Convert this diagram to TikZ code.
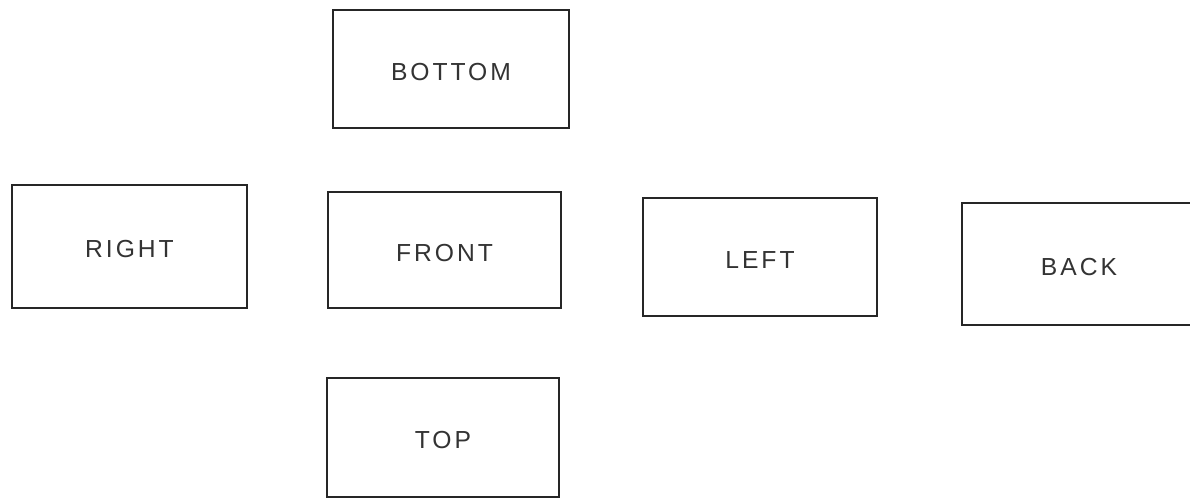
\documentclass[tikz,border=0pt]{standalone}
\usepackage{fontspec}
\setmainfont{Liberation Sans}
\tikzset{
  face/.style={draw=black!85, line width=1.1pt, inner sep=0pt, text height=17pt, text depth=0pt, font=\fontsize{18.5pt}{22pt}\selectfont\addfontfeature{LetterSpace=12}, text=black!80},
}
\begin{document}
\begin{tikzpicture}[x=0.75pt,y=0.75pt]
\useasboundingbox (0,0) rectangle (1190,-499);
\node[face, minimum width=236*0.75pt, minimum height=118*0.75pt] (bottom) at (451,-69) {BOTTOM};
\node[face, minimum width=235*0.75pt, minimum height=123*0.75pt] (right) at (129.5,-246.5) {RIGHT};
\node[face, minimum width=233*0.75pt, minimum height=116*0.75pt] (front) at (444.5,-250) {FRONT};
\node[face, minimum width=234*0.75pt, minimum height=118*0.75pt] (left) at (760,-257) {LEFT};
\begin{scope}
\clip (0,0) rectangle (1190,-499);
\node[face, minimum width=234*0.75pt, minimum height=122*0.75pt] (back) at (1079,-264) {BACK};
\end{scope}
\node[face, minimum width=232*0.75pt, minimum height=119*0.75pt] (top) at (443,-437.5) {TOP};
\end{tikzpicture}
\end{document}
